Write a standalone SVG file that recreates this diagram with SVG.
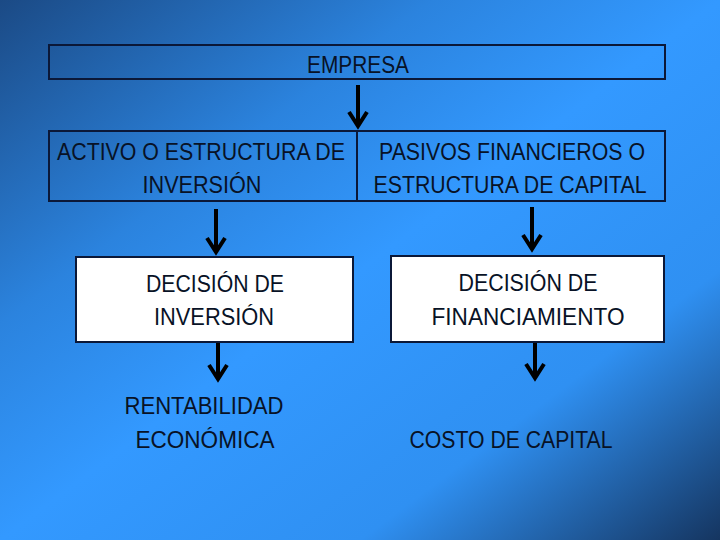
<svg xmlns="http://www.w3.org/2000/svg" width="720" height="540" viewBox="0 0 720 540">
  <defs>
    <linearGradient id="bg" x1="0" y1="0" x2="1" y2="1">
      <stop offset="0" stop-color="#1b4a85"/>
      <stop offset="0.3" stop-color="#2b83de"/>
      <stop offset="0.5" stop-color="#3399ff"/>
      <stop offset="0.75" stop-color="#2f90f2"/>
      <stop offset="1" stop-color="#153560"/>
    </linearGradient>
  </defs>
  <style>
    .box { fill: none; stroke: #0b1838; stroke-width: 2; }
    .wbox { fill: #ffffff; stroke: #0b1838; stroke-width: 2; }
    .t { font-family: "Liberation Sans", Arial, sans-serif; font-size: 23px; fill: #081226; text-anchor: middle; }
    .arr { fill: none; stroke: #000000; stroke-width: 4; stroke-linecap: butt; stroke-linejoin: miter; }
  </style>
  <rect x="0" y="0" width="720" height="540" fill="url(#bg)"/>

  <g id="empresa">
    <rect class="box" x="49" y="45" width="616" height="34"/>
    <text class="t" x="358" y="73" textLength="102" lengthAdjust="spacingAndGlyphs">EMPRESA</text>
  </g>

  <g id="estructura">
    <rect class="box" x="49" y="131" width="616" height="70"/>
    <line class="box" x1="357" y1="131" x2="357" y2="201"/>
    <text class="t" x="201" y="160" textLength="288" lengthAdjust="spacingAndGlyphs">ACTIVO O ESTRUCTURA DE</text>
    <text class="t" x="202" y="193" textLength="119" lengthAdjust="spacingAndGlyphs">INVERSIÓN</text>
    <text class="t" x="512" y="160" textLength="266" lengthAdjust="spacingAndGlyphs">PASIVOS FINANCIEROS O</text>
    <text class="t" x="510" y="193" textLength="273" lengthAdjust="spacingAndGlyphs">ESTRUCTURA DE CAPITAL</text>
  </g>

  <g id="decision-inversion">
    <rect class="wbox" x="76" y="257" width="277" height="85"/>
    <text class="t" x="215" y="292" textLength="138" lengthAdjust="spacingAndGlyphs">DECISIÓN DE</text>
    <text class="t" x="214" y="325" textLength="120" lengthAdjust="spacingAndGlyphs">INVERSIÓN</text>
  </g>

  <g id="decision-financiamiento">
    <rect class="wbox" x="391" y="256" width="273" height="86"/>
    <text class="t" x="528" y="291" textLength="139" lengthAdjust="spacingAndGlyphs">DECISIÓN DE</text>
    <text class="t" x="528" y="325" textLength="193" lengthAdjust="spacingAndGlyphs">FINANCIAMIENTO</text>
  </g>

  <g id="rentabilidad">
    <text class="t" x="204" y="414" textLength="159" lengthAdjust="spacingAndGlyphs">RENTABILIDAD</text>
    <text class="t" x="205" y="448" textLength="139" lengthAdjust="spacingAndGlyphs">ECONÓMICA</text>
  </g>

  <g id="costo">
    <text class="t" x="511" y="448" textLength="203" lengthAdjust="spacingAndGlyphs">COSTO DE CAPITAL</text>
  </g>

  <g id="connectors">
    <path class="arr" d="M358 85 V126 M349 112 L358 126 L367 112"/>
    <path class="arr" d="M216 209 V252 M207 238 L216 252 L225 238"/>
    <path class="arr" d="M532 207 V249 M523 235 L532 249 L541 235"/>
    <path class="arr" d="M218 343 V379 M209 365 L218 379 L227 365"/>
    <path class="arr" d="M535 343 V378 M526 364 L535 378 L544 364"/>
  </g>
</svg>
